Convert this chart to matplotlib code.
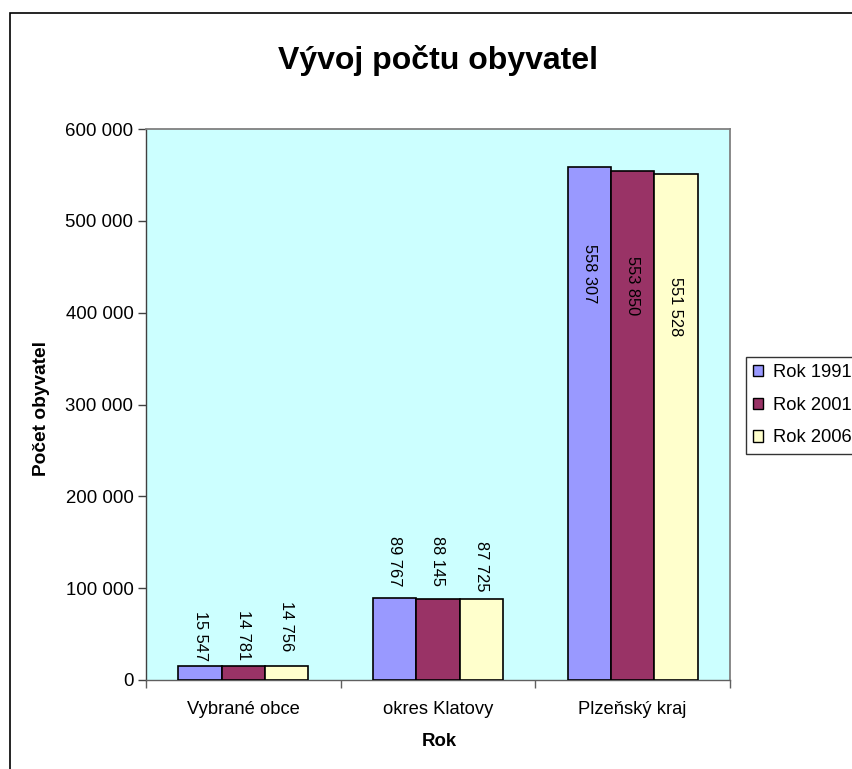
import matplotlib
matplotlib.use("Agg")
import matplotlib.pyplot as plt
from matplotlib.patches import Rectangle
from matplotlib.ticker import FuncFormatter
import numpy as np

plt.rcParams['font.family'] = ['Liberation Sans', 'DejaVu Sans']

categories = ["Vybrané obce", "okres Klatovy", "Plzeňský kraj"]
series_names = ["Rok 1991", "Rok 2001", "Rok 2006"]
rok_1991 = [15547, 89767, 558307]
rok_2001 = [14781, 88145, 553850]
rok_2006 = [14756, 87725, 551528]
values = [rok_1991, rok_2001, rok_2006]
colors = ["#9999FF", "#993366", "#FFFFCC"]
# label centre offsets (pixels) relative to bar top, as placed in the original
label_offsets = [[30, 36, -106], [31, 38, -114], [40, 33, -133]]

W, H = 853, 769
fig = plt.figure(figsize=(W / 100, H / 100), dpi=100)
fig.patch.set_facecolor("white")

# outer chart border
fig.patches.append(Rectangle((10 / W, 0 - 0.01), (W + 20) / W, (H - 13) / H + 0.01,
                             transform=fig.transFigure, fill=False,
                             edgecolor="black", linewidth=1.2, clip_on=False))

ax = fig.add_axes([146 / W, (H - 680) / H, 584 / W, 551 / H])
ax.set_facecolor("#CCFFFF")

x = np.arange(1, len(categories) + 1)
bw = 1 / 1.5 / 3
for i, (vals, c, name) in enumerate(zip(values, colors, series_names)):
    xs = x + (i - 1) * bw
    bars = ax.bar(xs, vals, width=bw, color=c, edgecolor="black", linewidth=1.2,
                  label=name, zorder=3)
    for xi, v, off in zip(xs, vals, label_offsets[i]):
        ax.annotate(f"{v:,}".replace(",", " "), (xi, v), xytext=(0, off),
                    textcoords="offset pixels", rotation=-90, ha="center",
                    va="center", fontsize=11.8, color="black", zorder=4)

ax.set_xlim(0.5, 3.5)
ax.set_ylim(0, 600000)
ax.set_yticks(np.arange(0, 600001, 100000))
ax.yaxis.set_major_formatter(FuncFormatter(lambda v, p: f"{int(v):,}".replace(",", " ")))
ax.set_xticks([0.5, 1.5, 2.5, 3.5])
ax.set_xticklabels([])
ax.set_xticks(x, minor=True)
ax.set_xticklabels(categories, minor=True, fontsize=13.2)
ax.tick_params(axis="x", which="minor", length=0, pad=15)
ax.tick_params(axis="x", which="major", direction="out", length=6, color="#606060", width=1)
ax.tick_params(axis="y", direction="out", length=6, color="#404040", width=1,
               labelsize=13.4, pad=3)

for s in ["top", "right"]:
    ax.spines[s].set_color("#808080")
    ax.spines[s].set_linewidth(1.3)
ax.spines["left"].set_color("#404040")
ax.spines["bottom"].set_color("#606060")
ax.spines["left"].set_linewidth(1.0)
ax.spines["bottom"].set_linewidth(1.0)

fig.text(438 / W, 1 - 61 / H, "Vývoj počtu obyvatel", ha="center", va="center",
         fontsize=23, fontweight="bold")
fig.text(42 / W, 1 - 408 / H, "Počet obyvatel", ha="center", va="center",
         rotation=90, fontsize=13.8, fontweight="bold")
fig.text(439 / W, 1 - 741 / H, "Rok", ha="center", va="center",
         fontsize=13.4, fontweight="bold")

leg = fig.legend(loc="upper left", bbox_to_anchor=(746 / W, 1 - 357 / H),
                 frameon=True, fancybox=False, fontsize=13.2,
                 handlelength=0.55, handleheight=0.55, handletextpad=0.55,
                 borderpad=0.4, labelspacing=0.85, borderaxespad=0)
leg.get_frame().set_edgecolor("black")
leg.get_frame().set_linewidth(1.0)
for h in leg.legend_handles:
    h.set_linewidth(1.0)

fig.savefig("out.png", dpi=100, facecolor="white")
